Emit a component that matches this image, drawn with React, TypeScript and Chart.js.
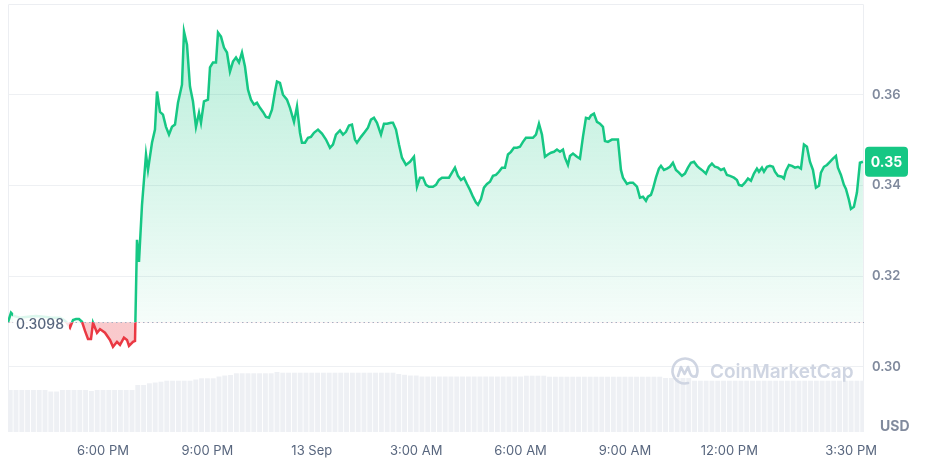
import React, { useEffect, useRef } from "react";
import { Chart, registerables } from "chart.js";

Chart.register(...registerables);

// Time in hours since 12 Sep 00:00 (values > 24 are on 13 Sep)
const HOURS = [
  15.270, 15.356, 15.442, 15.615, 15.845, 16.075, 16.305, 16.534, 16.764, 16.879,
  16.966, 17.052, 17.138, 17.224, 17.310, 17.397, 17.483, 17.569, 17.655, 17.713,
  17.828, 17.914, 18.057, 18.201, 18.287, 18.402, 18.489, 18.603, 18.690, 18.747,
  18.862, 18.920, 18.977, 19.034, 19.121, 19.236, 19.293, 19.408, 19.494, 19.552,
  19.638, 19.724, 19.810, 19.897, 19.983, 20.069, 20.155, 20.270, 20.328, 20.414,
  20.500, 20.586, 20.672, 20.759, 20.816, 20.902, 21.017, 21.075, 21.161, 21.247,
  21.305, 21.391, 21.477, 21.563, 21.649, 21.736, 21.822, 21.908, 21.994, 22.080,
  22.167, 22.253, 22.339, 22.425, 22.512, 22.598, 22.684, 22.770, 22.856, 22.943,
  23.000, 23.086, 23.172, 23.287, 23.374, 23.489, 23.575, 23.661, 23.718, 23.805,
  23.891, 23.977, 24.063, 24.178, 24.293, 24.408, 24.523, 24.609, 24.695, 24.810,
  24.897, 24.983, 25.069, 25.155, 25.241, 25.299, 25.414, 25.529, 25.615, 25.701,
  25.787, 25.874, 25.989, 26.075, 26.161, 26.276, 26.333, 26.420, 26.506, 26.592,
  26.707, 26.822, 26.937, 27.023, 27.109, 27.196, 27.282, 27.368, 27.483, 27.569,
  27.655, 27.742, 27.856, 27.943, 28.029, 28.115, 28.201, 28.287, 28.374, 28.460,
  28.546, 28.632, 28.719, 28.776, 28.862, 28.948, 29.035, 29.121, 29.207, 29.293,
  29.379, 29.466, 29.552, 29.638, 29.724, 29.810, 29.897, 29.983, 30.069, 30.155,
  30.270, 30.356, 30.443, 30.529, 30.615, 30.701, 30.788, 30.874, 30.960, 31.046,
  31.132, 31.219, 31.276, 31.362, 31.420, 31.506, 31.621, 31.707, 31.793, 31.879,
  31.966, 32.023, 32.109, 32.196, 32.282, 32.368, 32.425, 32.512, 32.626, 32.713,
  32.799, 32.885, 32.943, 33.058, 33.144, 33.230, 33.345, 33.431, 33.517, 33.604,
  33.661, 33.747, 33.805, 33.891, 33.977, 34.035, 34.121, 34.207, 34.293, 34.379,
  34.466, 34.552, 34.638, 34.724, 34.811, 34.897, 34.983, 35.069, 35.155, 35.242,
  35.328, 35.414, 35.500, 35.586, 35.673, 35.759, 35.845, 35.931, 36.018, 36.132,
  36.219, 36.276, 36.362, 36.448, 36.535, 36.621, 36.707, 36.793, 36.851, 36.937,
  36.995, 37.081, 37.167, 37.253, 37.311, 37.397, 37.512, 37.569, 37.627, 37.713,
  37.799, 37.885, 37.972, 38.058, 38.144, 38.230, 38.316, 38.403, 38.489, 38.575,
  38.632, 38.719, 38.805, 38.891, 38.977, 39.063, 39.121, 39.207, 39.293, 39.351,
  39.437, 39.494, 39.580, 39.667, 39.753, 39.839,
];

// Price in USD
const PRICES = [
  0.3098, 0.3119, 0.3112, 0.3108, 0.3110, 0.3112, 0.3110, 0.3108, 0.3108, 0.3103,
  0.3097, 0.3086, 0.3103, 0.3105, 0.3105, 0.3099, 0.3079, 0.3061, 0.3061, 0.3097,
  0.3075, 0.3083, 0.3075, 0.3059, 0.3044, 0.3055, 0.3048, 0.3064, 0.3059, 0.3046,
  0.3055, 0.3057, 0.3280, 0.3231, 0.3357, 0.3468, 0.3434, 0.3494, 0.3523, 0.3607,
  0.3562, 0.3556, 0.3529, 0.3512, 0.3529, 0.3534, 0.3582, 0.3622, 0.3739, 0.3710,
  0.3618, 0.3585, 0.3529, 0.3560, 0.3538, 0.3585, 0.3589, 0.3660, 0.3671, 0.3671,
  0.3737, 0.3728, 0.3704, 0.3693, 0.3651, 0.3673, 0.3682, 0.3671, 0.3693, 0.3662,
  0.3611, 0.3589, 0.3578, 0.3582, 0.3571, 0.3562, 0.3551, 0.3549, 0.3567, 0.3607,
  0.3629, 0.3626, 0.3600, 0.3589, 0.3571, 0.3540, 0.3574, 0.3516, 0.3494, 0.3494,
  0.3505, 0.3507, 0.3516, 0.3523, 0.3514, 0.3501, 0.3483, 0.3490, 0.3512, 0.3521,
  0.3512, 0.3518, 0.3532, 0.3534, 0.3501, 0.3494, 0.3507, 0.3518, 0.3527, 0.3545,
  0.3549, 0.3538, 0.3512, 0.3536, 0.3536, 0.3538, 0.3538, 0.3523, 0.3490, 0.3461,
  0.3445, 0.3452, 0.3463, 0.3397, 0.3417, 0.3417, 0.3401, 0.3397, 0.3397, 0.3401,
  0.3412, 0.3417, 0.3417, 0.3417, 0.3428, 0.3439, 0.3421, 0.3412, 0.3417, 0.3403,
  0.3390, 0.3375, 0.3362, 0.3357, 0.3370, 0.3395, 0.3403, 0.3408, 0.3421, 0.3423,
  0.3430, 0.3439, 0.3439, 0.3468, 0.3474, 0.3483, 0.3483, 0.3485, 0.3496, 0.3505,
  0.3505, 0.3505, 0.3512, 0.3536, 0.3512, 0.3463, 0.3468, 0.3472, 0.3474, 0.3479,
  0.3474, 0.3479, 0.3461, 0.3445, 0.3465, 0.3470, 0.3463, 0.3459, 0.3507, 0.3549,
  0.3547, 0.3554, 0.3558, 0.3540, 0.3536, 0.3529, 0.3498, 0.3496, 0.3501, 0.3501,
  0.3501, 0.3434, 0.3417, 0.3403, 0.3406, 0.3406, 0.3397, 0.3373, 0.3375, 0.3366,
  0.3375, 0.3379, 0.3392, 0.3417, 0.3437, 0.3443, 0.3434, 0.3437, 0.3441, 0.3450,
  0.3434, 0.3428, 0.3421, 0.3426, 0.3439, 0.3450, 0.3452, 0.3443, 0.3437, 0.3432,
  0.3426, 0.3441, 0.3448, 0.3441, 0.3439, 0.3434, 0.3437, 0.3423, 0.3421, 0.3417,
  0.3412, 0.3401, 0.3399, 0.3406, 0.3415, 0.3410, 0.3426, 0.3437, 0.3430, 0.3439,
  0.3430, 0.3441, 0.3443, 0.3441, 0.3430, 0.3421, 0.3419, 0.3415, 0.3432, 0.3445,
  0.3443, 0.3439, 0.3441, 0.3437, 0.3490, 0.3485, 0.3452, 0.3434, 0.3395, 0.3399,
  0.3428, 0.3441, 0.3445, 0.3452, 0.3459, 0.3465, 0.3439, 0.3423, 0.3401, 0.3392,
  0.3368, 0.3348, 0.3353, 0.3384, 0.3450, 0.3452,
];

// Volume (millions USD), one bar every 10 minutes from 15:20
const VOLUME_START_HOUR = 15 + 20 / 60;
const VOLUME_STEP_HOURS = 10 / 60;
const VOLUME_M = [
  4.2, 4.2, 4.2, 4.2, 4.2, 4.2, 4.2, 4.05, 4.05, 4.2,
  4.2, 4.2, 4.2, 4.2, 4.1, 4.2, 4.2, 4.2, 4.2, 4.2,
  4.2, 4.2, 4.7, 4.7, 4.87, 4.95, 5.03, 5.13, 5.13, 5.13,
  5.13, 5.13, 5.25, 5.37, 5.37, 5.37, 5.55, 5.65, 5.7, 5.87,
  5.87, 5.87, 5.87, 5.87, 5.87, 5.87, 6.0, 5.93, 5.93, 5.93,
  5.93, 5.93, 5.93, 5.93, 5.93, 5.93, 5.93, 5.93, 5.93, 5.93,
  5.93, 5.93, 5.93, 5.93, 5.93, 5.93, 5.93, 5.8, 5.72, 5.65,
  5.65, 5.55, 5.55, 5.55, 5.55, 5.55, 5.55, 5.55, 5.55, 5.55,
  5.55, 5.55, 5.55, 5.55, 5.55, 5.55, 5.55, 5.55, 5.55, 5.63,
  5.63, 5.63, 5.63, 5.53, 5.53, 5.53, 5.53, 5.53, 5.53, 5.53,
  5.53, 5.53, 5.53, 5.53, 5.53, 5.53, 5.53, 5.53, 5.53, 5.53,
  5.53, 5.53, 5.53, 5.4, 5.4, 5.4, 5.4, 5.4, 5.13, 5.13,
  5.13, 5.13, 5.13, 5.13, 5.13, 5.13, 5.13, 5.13, 5.13, 5.13,
  5.13, 5.13, 5.13, 5.13, 5.13, 5.13, 5.13, 5.13, 5.13, 5.13,
  5.13, 5.13, 5.13, 5.13, 5.13, 5.13, 5.13, 5.13,
];

const OPEN_PRICE = 0.3098;
const X_TICK_HOURS = [18, 21, 24, 27, 30, 33, 36, 39.5];
const X_TICK_LABELS = ["6:00 PM", "9:00 PM", "13 Sep", "3:00 AM", "6:00 AM", "9:00 AM", "12:00 PM", "3:30 PM"];
const Y_TICKS = [0.3, 0.32, 0.34, 0.36];
const X_MIN = 15.27;
const X_MAX = 39.87;
const Y_MIN = 0.2856;
const Y_MAX = 0.38;
const VOL_AXIS_MAX = 42.8;

const GREEN = "#16c784";
const RED = "#ea3943";

function lineColor(c: any) {
  const chart = c.chart;
  const a = chart.chartArea;
  if (!a || !chart.scales.y) return GREEN;
  const y = chart.scales.y.getPixelForValue(OPEN_PRICE);
  const s = Math.min(1, Math.max(0, (y - a.top) / (a.bottom - a.top)));
  const g = chart.ctx.createLinearGradient(0, a.top, 0, a.bottom);
  g.addColorStop(0, GREEN);
  g.addColorStop(s, GREEN);
  g.addColorStop(s, RED);
  g.addColorStop(1, RED);
  return g;
}

function fillColor(c: any) {
  const chart = c.chart;
  const a = chart.chartArea;
  if (!a || !chart.scales.y) return "rgba(22,199,132,0.2)";
  const y = chart.scales.y.getPixelForValue(OPEN_PRICE);
  const s = Math.min(1, Math.max(0, (y - a.top) / (a.bottom - a.top)));
  const g = chart.ctx.createLinearGradient(0, a.top, 0, a.bottom);
  g.addColorStop(0, "rgba(22,199,132,0.32)");
  g.addColorStop(s, "rgba(22,199,132,0.04)");
  g.addColorStop(s, "rgba(234,57,67,0.27)");
  g.addColorStop(1, "rgba(234,57,67,0.27)");
  return g;
}

const decorPlugin = {
  id: "decor",
  beforeDatasetsDraw(chart: any) {
    const { ctx, chartArea: a } = chart;
    ctx.save();
    ctx.strokeStyle = "#eceef2";
    ctx.lineWidth = 1;
    ctx.beginPath();
    ctx.moveTo(a.left + 0.5, a.bottom);
    ctx.lineTo(a.left + 0.5, a.top + 0.5);
    ctx.lineTo(a.right - 0.5, a.top + 0.5);
    ctx.lineTo(a.right - 0.5, a.bottom);
    ctx.stroke();
    ctx.restore();
  },
  afterDatasetsDraw(chart: any) {
    const { ctx, chartArea: a, scales } = chart;
    const py = scales.y.getPixelForValue(OPEN_PRICE);
    ctx.save();

    // dotted open-price line
    ctx.strokeStyle = "#a6b0c3";
    ctx.lineWidth = 1;
    ctx.setLineDash([1.5, 3]);
    ctx.beginPath();
    ctx.moveTo(a.left, Math.round(py) + 0.5);
    ctx.lineTo(a.right, Math.round(py) + 0.5);
    ctx.stroke();
    ctx.setLineDash([]);

    // open-price label
    ctx.font = "500 14px Inter";
    const txt = OPEN_PRICE.toFixed(4);
    const tw = ctx.measureText(txt).width;
    ctx.fillStyle = "rgba(255,255,255,0.85)";
    ctx.fillRect(a.left + 5, py - 9, tw + 8, 21);
    ctx.fillStyle = "#58667e";
    ctx.textBaseline = "middle";
    ctx.textAlign = "left";
    ctx.fillText(txt, a.left + 8, py + 2.5);

    // watermark
    const wc = "#cfd5e2";
    const cx = a.right - 179;
    const cy = a.bottom - 61;
    ctx.strokeStyle = wc;
    ctx.lineWidth = 2.6;
    ctx.lineCap = "round";
    ctx.lineJoin = "round";
    ctx.beginPath();
    ctx.arc(cx, cy, 12.5, 0.42 * Math.PI, 2.15 * Math.PI);
    ctx.stroke();
    ctx.beginPath();
    ctx.moveTo(cx - 7, cy + 5);
    ctx.lineTo(cx - 4, cy - 4);
    ctx.lineTo(cx - 0.5, cy + 3);
    ctx.lineTo(cx + 3, cy - 4);
    ctx.lineTo(cx + 5, cy + 2);
    ctx.quadraticCurveTo(cx + 7, cy + 7, cx + 11, cy + 5);
    ctx.stroke();
    ctx.fillStyle = wc;
    ctx.font = "600 19px Inter";
    ctx.textBaseline = "middle";
    ctx.fillText("CoinMarketCap", cx + 25, cy + 1);

    // last price badge
    const last = PRICES[PRICES.length - 1];
    const ly = scales.y.getPixelForValue(last);
    const bx = a.right + 1;
    const bw = 43;
    const bh = 30;
    const by = ly - bh / 2;
    ctx.fillStyle = GREEN;
    ctx.beginPath();
    (ctx as any).roundRect(bx, by, bw, bh, 4);
    ctx.fill();
    ctx.fillStyle = "#ffffff";
    ctx.font = "700 14px Inter";
    ctx.textAlign = "center";
    ctx.fillText(last.toFixed(2), bx + bw / 2, ly + 1);

    // currency label
    ctx.fillStyle = "#808a9d";
    ctx.font = "700 14px Inter";
    ctx.textAlign = "left";
    ctx.fillText("USD", a.right + 16, a.bottom - 5);

    ctx.restore();
  },
};

function PriceChart() {
  const ref = useRef<HTMLCanvasElement>(null);

  useEffect(() => {
    if (!ref.current) return;
    Chart.defaults.font.family = "Inter";
    const chart = new Chart(ref.current, {
      type: "line",
      data: {
        datasets: [
          {
            type: "line",
            data: HOURS.map((h, i) => ({ x: h, y: PRICES[i] })),
            yAxisID: "y",
            xAxisID: "x",
            borderColor: lineColor as any,
            backgroundColor: fillColor as any,
            borderWidth: 2.5,
            pointRadius: 0,
            pointHoverRadius: 0,
            tension: 0,
            fill: { target: { value: OPEN_PRICE } } as any,
            order: 1,
          },
          {
            type: "bar",
            data: VOLUME_M.map((v, i) => ({ x: VOLUME_START_HOUR + i * VOLUME_STEP_HOURS, y: v })),
            yAxisID: "yv",
            xAxisID: "x",
            backgroundColor: "#eef0f4",
            barPercentage: 0.85,
            categoryPercentage: 1,
            order: 2,
          } as any,
        ],
      },
      options: {
        animation: false,
        responsive: false,
        devicePixelRatio: 1,
        layout: { padding: { left: 8, top: 4, right: 0, bottom: 0 } },
        plugins: { legend: { display: false }, tooltip: { enabled: false } },
        scales: {
          x: {
            type: "linear",
            min: X_MIN,
            max: X_MAX,
            offset: false,
            grid: { display: false, drawTicks: false },
            border: { display: false },
            afterBuildTicks: (s: any) => {
              s.ticks = X_TICK_HOURS.map((v) => ({ value: v }));
            },
            afterFit: (s: any) => {
              s.height = 32;
              s.paddingLeft = 0;
              s.paddingRight = 0;
            },
            ticks: {
              autoSkip: false,
              maxRotation: 0,
              padding: 11,
              color: "#58667e",
              font: { size: 13, weight: "400" as any },
              callback: (v: any) => {
                const i = X_TICK_HOURS.indexOf(Number(v));
                return i >= 0 ? X_TICK_LABELS[i] : "";
              },
            },
          },
          y: {
            type: "linear",
            position: "right",
            min: Y_MIN,
            max: Y_MAX,
            grid: { color: "#eef0f3", drawTicks: false },
            border: { display: false },
            afterBuildTicks: (s: any) => {
              s.ticks = Y_TICKS.map((v) => ({ value: v }));
            },
            afterFit: (s: any) => {
              s.width = 63;
              s.paddingTop = 0;
              s.paddingBottom = 0;
            },
            ticks: {
              padding: 8,
              color: "#808a9d",
              font: { size: 13, weight: "600" as any },
              callback: (v: any) => Number(v).toFixed(2),
            },
          },
          yv: {
            type: "linear",
            display: false,
            min: 0,
            max: VOL_AXIS_MAX,
          },
        },
      },
      plugins: [decorPlugin],
    });
    return () => chart.destroy();
  }, []);

  return <canvas ref={ref} width={927} height={464} style={{ display: "block" }} />;
}

export default function App() {
  return (
    <div style={{ position: "fixed", left: 0, top: 0, width: 927, height: 464, background: "#ffffff" }}>
      <PriceChart />
    </div>
  );
}
